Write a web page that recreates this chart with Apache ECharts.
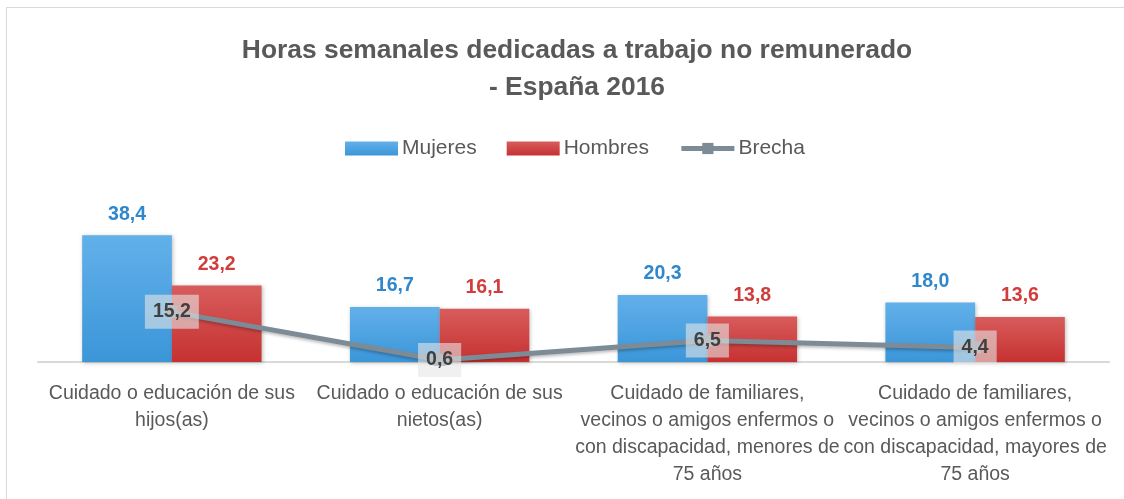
<!DOCTYPE html>
<html>
<head>
<meta charset="utf-8">
<script src="https://cdn.jsdelivr.net/npm/echarts@6/dist/echarts.min.js"></script>
<style>
    html, body {margin: 0; padding: 0; background: #fff;}
    #chart {position: absolute; left: 0; top: 0; width: 1124px; height: 499px;}
    #frame {position: absolute; left: 6px; top: 7px; width: 1130px; height: 520px;
            border: 1px solid #d9d9d9; pointer-events: none;}
</style>
</head>
<body>
<div id="chart"></div>
<div id="frame"></div>
<script>
const categories = [
    'Cuidado o educación de sus\nhijos(as)',
    'Cuidado o educación de sus\nnietos(as)',
    'Cuidado de familiares,\nvecinos o amigos enfermos o\ncon discapacidad, menores de\n75 años',
    'Cuidado de familiares,\nvecinos o amigos enfermos o\ncon discapacidad, mayores de\n75 años'
];
const mujeres = [38.4, 16.7, 20.3, 18.0];
const hombres = [23.2, 16.1, 13.8, 13.6];
const brecha = [15.2, 0.6, 6.5, 4.4];

const FONT = "'Liberation Sans', Arial, sans-serif";
const fmt = p => p.value.toFixed(1).replace('.', ',');
const grad = (a, b) => new echarts.graphic.LinearGradient(0, 0, 0, 1, [
    {offset: 0, color: a}, {offset: 1, color: b}
]);

const chart = echarts.init(document.getElementById('chart'));
chart.setOption({
    animation: false,
    textStyle: {fontFamily: FONT},
    title: {
        text: 'Horas semanales dedicadas a trabajo no remunerado\n- España 2016',
        left: 572,
        top: 27,
        textAlign: 'center',
        textStyle: {fontFamily: FONT, fontSize: 26.4, fontWeight: 'bold', color: '#595959', lineHeight: 37}
    },
    legend: {
        top: 133,
        left: 340,
        itemWidth: 53,
        itemHeight: 14,
        itemGap: 30,
        textStyle: {fontFamily: FONT, fontSize: 21, color: '#595959', padding: [0, 0, 0, -1]},
        data: [
            {name: 'Mujeres', icon: 'rect'},
            {name: 'Hombres', icon: 'rect'},
            {name: 'Brecha', lineStyle: {width: 5}}
        ]
    },
    grid: {left: 38, right: 15, top: 197, bottom: 137},
    xAxis: {
        type: 'category',
        data: categories,
        axisLine: {lineStyle: {color: '#d9d9d9', width: 2}},
        axisTick: {show: false},
        axisLabel: {fontFamily: FONT, fontSize: 19.5, color: '#595959', lineHeight: 27, margin: 18, interval: 0}
    },
    yAxis: {type: 'value', min: 0, max: 50, show: false, splitLine: {show: false}},
    series: [
        {
            name: 'Mujeres',
            type: 'bar',
            data: mujeres,
            barGap: '0%',
            barCategoryGap: '33%',
            itemStyle: {color: grad('#62b0ea', '#3b96d8'), shadowColor: 'rgba(0,0,0,0.25)', shadowBlur: 4, shadowOffsetX: 1, shadowOffsetY: 1},
            label: {show: true, position: 'top', distance: 11, formatter: fmt,
                    fontFamily: FONT, fontSize: 19.5, fontWeight: 'bold', color: '#2f87cc'}
        },
        {
            name: 'Hombres',
            type: 'bar',
            data: hombres,
            itemStyle: {color: grad('#d85c5c', '#c63131'), shadowColor: 'rgba(0,0,0,0.25)', shadowBlur: 4, shadowOffsetX: 1, shadowOffsetY: 1},
            label: {show: true, position: 'top', distance: 11, formatter: fmt,
                    fontFamily: FONT, fontSize: 19.5, fontWeight: 'bold', color: '#d13d3d'}
        },
        {
            name: 'Brecha',
            type: 'line',
            data: brecha,
            symbol: 'rect',
            symbolSize: 12,
            itemStyle: {color: '#7d8b96'},
            lineStyle: {color: '#7d8b96', width: 5, shadowColor: 'rgba(0,0,0,0.25)', shadowBlur: 3, shadowOffsetY: 2},
            label: {show: true, position: 'inside', formatter: fmt,
                    fontFamily: FONT, fontSize: 19.5, fontWeight: 'bold', color: '#404040',
                    backgroundColor: 'rgba(230,230,230,0.6)', padding: [8, 8, 6, 8]}
        }
    ]
});
</script>
</body>
</html>
